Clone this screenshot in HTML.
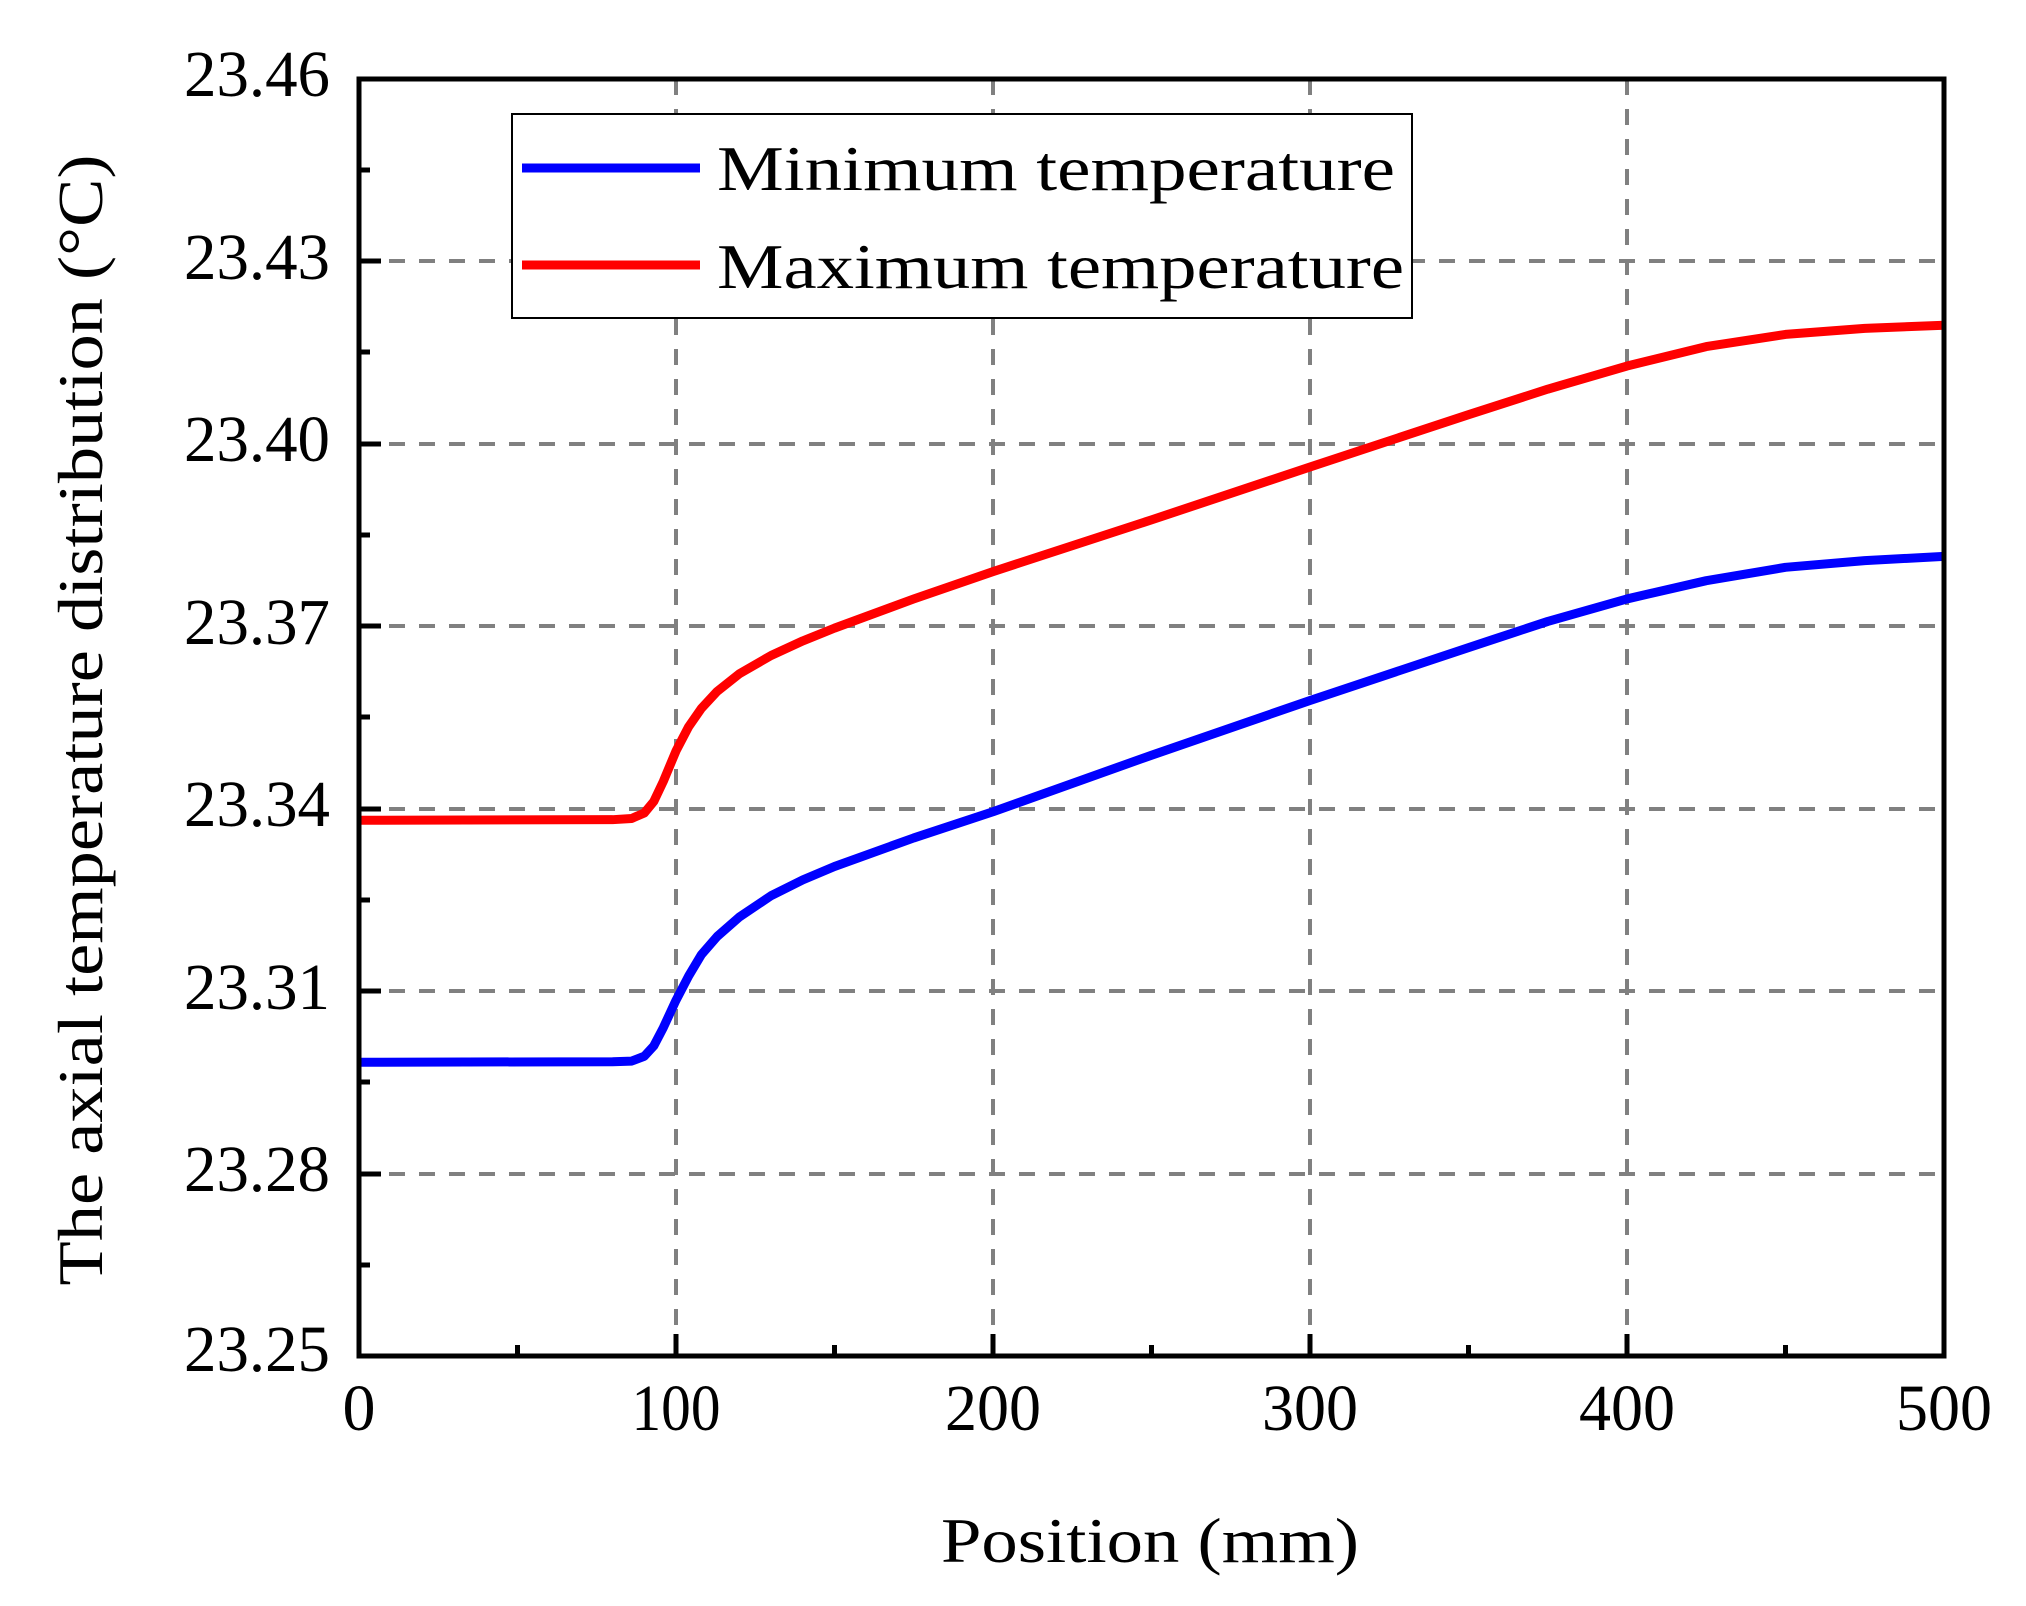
<!DOCTYPE html>
<html><head><meta charset="utf-8"><style>
html,body{margin:0;padding:0;background:#fff;}
svg{display:block;}
text{font-family:"Liberation Serif",serif;fill:#000;}
</style></head><body>
<svg width="2026" height="1606" viewBox="0 0 2026 1606" xmlns="http://www.w3.org/2000/svg">
<g stroke="#808080" stroke-width="4" stroke-dasharray="16,14">
<line x1="676" y1="79" x2="676" y2="1356"/>
<line x1="993" y1="79" x2="993" y2="1356"/>
<line x1="1310" y1="79" x2="1310" y2="1356"/>
<line x1="1627" y1="79" x2="1627" y2="1356"/>
<line x1="359" y1="261" x2="1944" y2="261"/>
<line x1="359" y1="444" x2="1944" y2="444"/>
<line x1="359" y1="626" x2="1944" y2="626"/>
<line x1="359" y1="809" x2="1944" y2="809"/>
<line x1="359" y1="991" x2="1944" y2="991"/>
<line x1="359" y1="1174" x2="1944" y2="1174"/>
</g>
<g transform="matrix(3.17,0,0,-6081,359,142739.26)" fill="none" stroke-linejoin="round" stroke-linecap="butt">
<polyline vector-effect="non-scaling-stroke" stroke="#0000ff" stroke-width="9" points="0,23.2983 80,23.2984 86,23.2985 90,23.2993 93,23.3010 96,23.3040 100,23.3085 104,23.3125 108,23.3160 113,23.3190 120,23.3222 130,23.3257 140,23.3283 150,23.3305 175,23.3352 200,23.3395 250,23.3488 300,23.3578 350,23.3665 375,23.3708 400,23.3745 425,23.3775 450,23.3797 475,23.3808 500,23.3815"/>
<polyline vector-effect="non-scaling-stroke" stroke="#ff0000" stroke-width="9" points="0,23.3381 80,23.3382 86,23.3384 90,23.3393 93,23.3412 96,23.3445 100,23.3495 104,23.3535 108,23.3565 113,23.3593 120,23.3622 130,23.3652 140,23.3676 150,23.3697 175,23.3745 200,23.3790 250,23.3875 300,23.3962 350,23.4048 375,23.4090 400,23.4128 425,23.4160 450,23.4180 475,23.4190 500,23.4195"/>
</g>
<g stroke="#000" stroke-width="5">
<line x1="676" y1="1356" x2="676" y2="1334"/>
<line x1="993" y1="1356" x2="993" y2="1334"/>
<line x1="1310" y1="1356" x2="1310" y2="1334"/>
<line x1="1627" y1="1356" x2="1627" y2="1334"/>
<line x1="517.5" y1="1356" x2="517.5" y2="1345"/>
<line x1="834.5" y1="1356" x2="834.5" y2="1345"/>
<line x1="1151.5" y1="1356" x2="1151.5" y2="1345"/>
<line x1="1468.5" y1="1356" x2="1468.5" y2="1345"/>
<line x1="1785.5" y1="1356" x2="1785.5" y2="1345"/>
<line x1="359" y1="261" x2="381" y2="261"/>
<line x1="359" y1="444" x2="381" y2="444"/>
<line x1="359" y1="626" x2="381" y2="626"/>
<line x1="359" y1="809" x2="381" y2="809"/>
<line x1="359" y1="991" x2="381" y2="991"/>
<line x1="359" y1="1174" x2="381" y2="1174"/>
<line x1="359" y1="170" x2="370" y2="170"/>
<line x1="359" y1="352" x2="370" y2="352"/>
<line x1="359" y1="535" x2="370" y2="535"/>
<line x1="359" y1="717" x2="370" y2="717"/>
<line x1="359" y1="900" x2="370" y2="900"/>
<line x1="359" y1="1082" x2="370" y2="1082"/>
<line x1="359" y1="1265" x2="370" y2="1265"/>
</g>
<rect x="359" y="79" width="1585" height="1277" fill="none" stroke="#000" stroke-width="5"/>
<rect x="512" y="114" width="900" height="204" fill="#fff" stroke="#000" stroke-width="2"/>
<line x1="522" y1="168" x2="700" y2="168" stroke="#0000ff" stroke-width="9"/>
<line x1="522" y1="265" x2="700" y2="265" stroke="#ff0000" stroke-width="9"/>
<text x="717" y="190" font-size="64" textLength="678" lengthAdjust="spacingAndGlyphs">Minimum temperature</text>
<text x="717" y="288" font-size="64" textLength="687" lengthAdjust="spacingAndGlyphs">Maximum temperature</text>
<g font-size="66" text-anchor="end">
<text x="330" y="96" textLength="146" lengthAdjust="spacingAndGlyphs">23.46</text>
<text x="330" y="279" textLength="146" lengthAdjust="spacingAndGlyphs">23.43</text>
<text x="330" y="461" textLength="146" lengthAdjust="spacingAndGlyphs">23.40</text>
<text x="330" y="644" textLength="146" lengthAdjust="spacingAndGlyphs">23.37</text>
<text x="330" y="826" textLength="146" lengthAdjust="spacingAndGlyphs">23.34</text>
<text x="330" y="1009" textLength="146" lengthAdjust="spacingAndGlyphs">23.31</text>
<text x="330" y="1191" textLength="146" lengthAdjust="spacingAndGlyphs">23.28</text>
<text x="330" y="1371" textLength="146" lengthAdjust="spacingAndGlyphs">23.25</text>
</g>
<g font-size="66" text-anchor="middle">
<text x="359" y="1430">0</text>
<text x="676" y="1430" textLength="89" lengthAdjust="spacingAndGlyphs">100</text>
<text x="993" y="1430" textLength="96" lengthAdjust="spacingAndGlyphs">200</text>
<text x="1310" y="1430" textLength="96" lengthAdjust="spacingAndGlyphs">300</text>
<text x="1627" y="1430" textLength="96" lengthAdjust="spacingAndGlyphs">400</text>
<text x="1944" y="1430" textLength="96" lengthAdjust="spacingAndGlyphs">500</text>
</g>
<text x="1150" y="1562" font-size="64" text-anchor="middle" textLength="418" lengthAdjust="spacingAndGlyphs">Position (mm)</text>
<text transform="translate(102,720) rotate(-90)" font-size="64" text-anchor="middle" textLength="1131" lengthAdjust="spacingAndGlyphs">The axial temperature distribution (°C)</text>
</svg>
</body></html>
